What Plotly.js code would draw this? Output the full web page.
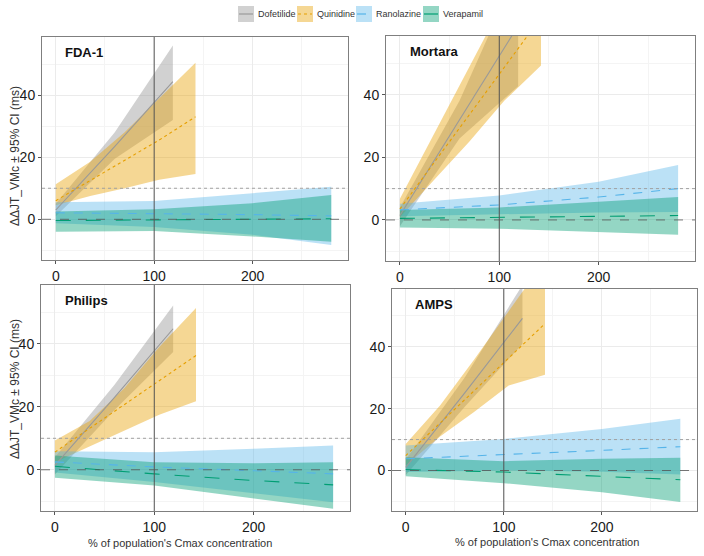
<!DOCTYPE html>
<html><head><meta charset="utf-8">
<script src="https://cdn.plot.ly/plotly-3.0.1.min.js"></script>
<style>html,body{margin:0;padding:0;background:#fff;} #chart{width:704px;height:556px;}</style>
</head><body><div id="chart"></div>
<script>
// ---- data ----
const PANELS = ['FDA-1', 'Mortara', 'Philips', 'AMPS'];
const DRUGS = ['Dofetilide', 'Quinidine', 'Ranolazine', 'Verapamil'];
const DOF_X = [0, 60, 119];
const QUIN_X = [0, 35, 70, 105, 142];
const RAN_X = [0, 100, 200, 280];
const VER_X = [0, 100, 200, 280];

// FDA-1
const FDA_DOF_MEAN = [3, 23.5, 44.3];
const FDA_DOF_LO = [1, 19.5, 32];
const FDA_DOF_HI = [5, 28, 56];
const FDA_QUIN_MEAN = [6, 12.5, 19, 25.5, 33];
const FDA_QUIN_LO = [4.5, 7.5, 10, 12.7, 14.6];
const FDA_QUIN_HI = [11.3, 18.5, 28, 39, 50.4];
const FDA_RAN_MEAN = [2.1, 1.9, 1.5, 1.1];
const FDA_RAN_LO = [-1.3, -2.5, -5, -8.3];
const FDA_RAN_HI = [5.5, 5.9, 8.4, 10.5];
const FDA_VER_MEAN = [-0.4, -0.2, 0, 0.2];
const FDA_VER_LO = [-4, -3.8, -5.5, -7.2];
const FDA_VER_HI = [2.5, 3.2, 5.2, 7.8];

// Mortara
const MOR_DOF_MEAN = [1.4, 32, 62];
const MOR_DOF_LO = [-2, 26, 42.7];
const MOR_DOF_HI = [4, 38, 80];
const MOR_QUIN_MEAN = [3.5, 18.6, 33.6, 48.7, 64.6];
const MOR_QUIN_LO = [0.9, 13, 25, 38, 49.3];
const MOR_QUIN_HI = [6.8, 28, 49, 70, 93];
const MOR_RAN_MEAN = [3.2, 4.8, 7.3, 10];
const MOR_RAN_LO = [1.2, 1.8, 2.4, 2.5];
const MOR_RAN_HI = [5.2, 7.8, 12.2, 17.5];
const MOR_VER_MEAN = [0.5, 0.8, 1.1, 1.4];
const MOR_VER_LO = [-2.4, -2.8, -3.8, -4.7];
const MOR_VER_HI = [3.2, 4, 5.8, 7.3];

// Philips
const PHI_DOF_MEAN = [1.4, 23, 44.8];
const PHI_DOF_LO = [-1.5, 19, 37.4];
const PHI_DOF_HI = [4, 27, 52.2];
const PHI_QUIN_MEAN = [5.6, 13.2, 20.7, 28.3, 36.3];
const PHI_QUIN_LO = [2.4, 7.5, 12.5, 17.5, 21.8];
const PHI_QUIN_HI = [9.3, 15.5, 26, 39, 51.4];
const PHI_RAN_MEAN = [2.5, 0.9, -0.3, -1.3];
const PHI_RAN_LO = [-0.9, -3.9, -7.5, -10.3];
const PHI_RAN_HI = [5.9, 5.6, 6.7, 7.7];
const PHI_VER_MEAN = [1.1, -1.3, -3.4, -4.8];
const PHI_VER_LO = [-2.5, -5, -9.2, -12.4];
const PHI_VER_HI = [4.5, 2.4, 2.1, 2.4];

// AMPS
const AMP_DOF_MEAN = [1, 25, 49.2];
const AMP_DOF_LO = [-1.5, 20.5, 40.9];
const AMP_DOF_HI = [3.5, 30, 60];
const AMP_QUIN_MEAN = [4.8, 15.3, 25.8, 36.3, 47.5];
const AMP_QUIN_LO = [1.6, 11, 19, 27.5, 31];
const AMP_QUIN_HI = [8.6, 21, 36, 52, 68];
const AMP_RAN_MEAN = [3.8, 5.1, 6.5, 7.7];
const AMP_RAN_LO = [-0.5, 0, -0.4, -1.3];
const AMP_RAN_HI = [8.1, 10.2, 13.4, 16.7];
const AMP_VER_MEAN = [0.3, -0.5, -1.9, -3];
const AMP_VER_LO = [-1.9, -4.1, -7, -10.2];
const AMP_VER_HI = [4.3, 3.0, 3.8, 4.1];

const X_TICKS = [0, 100, 200];
const Y_TICKS = [0, 20, 40];
const Y_TITLE = 'ΔΔJT_VMc ± 95% CI (ms)';
const X_TITLE = "% of population's Cmax concentration";

// ---- styling ----
const COLORS = ['#999999', '#E69F00', '#56B4E9', '#009E73'];
const FILLS = ['rgba(153,153,153,0.45)', 'rgba(230,159,0,0.42)', 'rgba(86,180,233,0.40)', 'rgba(0,158,115,0.42)'];
const DASHES = ['solid', 'dot', 'dash', 'longdash'];

const panelData = [
  [[DOF_X, FDA_DOF_MEAN, FDA_DOF_LO, FDA_DOF_HI], [QUIN_X, FDA_QUIN_MEAN, FDA_QUIN_LO, FDA_QUIN_HI], [RAN_X, FDA_RAN_MEAN, FDA_RAN_LO, FDA_RAN_HI], [VER_X, FDA_VER_MEAN, FDA_VER_LO, FDA_VER_HI]],
  [[DOF_X, MOR_DOF_MEAN, MOR_DOF_LO, MOR_DOF_HI], [QUIN_X, MOR_QUIN_MEAN, MOR_QUIN_LO, MOR_QUIN_HI], [RAN_X, MOR_RAN_MEAN, MOR_RAN_LO, MOR_RAN_HI], [VER_X, MOR_VER_MEAN, MOR_VER_LO, MOR_VER_HI]],
  [[DOF_X, PHI_DOF_MEAN, PHI_DOF_LO, PHI_DOF_HI], [QUIN_X, PHI_QUIN_MEAN, PHI_QUIN_LO, PHI_QUIN_HI], [RAN_X, PHI_RAN_MEAN, PHI_RAN_LO, PHI_RAN_HI], [VER_X, PHI_VER_MEAN, PHI_VER_LO, PHI_VER_HI]],
  [[DOF_X, AMP_DOF_MEAN, AMP_DOF_LO, AMP_DOF_HI], [QUIN_X, AMP_QUIN_MEAN, AMP_QUIN_LO, AMP_QUIN_HI], [RAN_X, AMP_RAN_MEAN, AMP_RAN_LO, AMP_RAN_HI], [VER_X, AMP_VER_MEAN, AMP_VER_LO, AMP_VER_HI]]
];

// panel pixel boxes [left, top, right, bottom]
const W = 704, H = 556;
const BOXES = [[42, 37, 348, 260], [386, 36, 695, 261], [41, 285, 350, 511], [392, 289, 697, 511]];
const XR = [-14, 297];
const YR = [-13.1, 58.7];

const traces = [];
const suffix = ['', '2', '3', '4'];
for (let p = 0; p < 4; p++) {
  for (let d = 0; d < 4; d++) {
    const [xs, m, lo, hi] = panelData[p][d];
    traces.push({
      x: xs.concat(xs.slice().reverse()),
      y: hi.concat(lo.slice().reverse()),
      type: 'scatter', mode: 'lines', fill: 'toself', fillcolor: FILLS[d],
      line: {width: 0, color: FILLS[d]}, hoverinfo: 'skip', showlegend: false,
      xaxis: 'x' + suffix[p], yaxis: 'y' + suffix[p]
    });
  }
  for (let d = 0; d < 4; d++) {
    const [xs, m] = panelData[p][d];
    traces.push({
      x: xs, y: m, type: 'scatter', mode: 'lines',
      line: {color: COLORS[d], width: 1.1, dash: DASHES[d]},
      showlegend: false, xaxis: 'x' + suffix[p], yaxis: 'y' + suffix[p]
    });
  }
}

const layout = {
  width: W, height: H, margin: {l: 0, r: 0, t: 0, b: 0},
  paper_bgcolor: '#ffffff', plot_bgcolor: '#ffffff',
  font: {family: 'Liberation Sans, Arial, sans-serif', color: '#1a1a1a'},
  showlegend: false,
  shapes: [], annotations: []
};

for (let p = 0; p < 4; p++) {
  const [l, t, r, b] = BOXES[p];
  const s = suffix[p];
  const xa = {
    domain: [l / W, r / W], range: XR, tickvals: X_TICKS, ticktext: X_TICKS.map(String),
    anchor: 'y' + s, showline: true, mirror: true, linecolor: '#7f7f7f', linewidth: 1,
    showgrid: true, gridcolor: '#ebebeb', gridwidth: 1, zeroline: false,
    ticks: 'outside', ticklen: 3, tickcolor: '#555', tickfont: {size: 14, color: '#1a1a1a'},
    minor: {dtick: 50, tick0: 0, showgrid: true, gridcolor: '#f4f4f4', gridwidth: 1}
  };
  const ya = {
    domain: [1 - b / H, 1 - t / H], range: YR, tickvals: Y_TICKS, ticktext: Y_TICKS.map(String),
    anchor: 'x' + s, showline: true, mirror: true, linecolor: '#7f7f7f', linewidth: 1,
    showgrid: true, gridcolor: '#ebebeb', gridwidth: 1, zeroline: false,
    ticks: 'outside', ticklen: 3, tickcolor: '#555', tickfont: {size: 14, color: '#1a1a1a'},
    minor: {dtick: 10, tick0: 0, showgrid: true, gridcolor: '#f4f4f4', gridwidth: 1}
  };
  layout['xaxis' + s] = xa;
  layout['yaxis' + s] = ya;
  const xref = 'x' + s, yref = 'y' + s;
  layout.shapes.push({type: 'line', xref: xref + ' domain', yref: yref, x0: 0, x1: 1, y0: 10, y1: 10,
    line: {color: '#a0a0a0', width: 1, dash: 'dot'}});
  layout.shapes.push({type: 'line', xref: xref + ' domain', yref: yref, x0: 0, x1: 1, y0: 0, y1: 0,
    line: {color: '#555555', width: 0.8, dash: 'dash'}});
  layout.shapes.push({type: 'line', xref: xref, yref: yref + ' domain', x0: 100, x1: 100, y0: 0, y1: 1,
    line: {color: '#555555', width: 1}});
  layout.annotations.push({text: '<b>' + PANELS[p] + '</b>', xref: xref + ' domain', yref: yref + ' domain',
    x: 0.07, y: 0.93, xanchor: 'left', yanchor: 'middle', showarrow: false,
    font: {size: 13, color: '#111'}});
}
// axis titles
layout.annotations.push({text: Y_TITLE, xref: 'paper', yref: 'paper', x: 15 / W, y: 1 - 156 / H,
  textangle: -90, showarrow: false, font: {size: 12, color: '#333'}, xanchor: 'center', yanchor: 'middle'});
layout.annotations.push({text: Y_TITLE, xref: 'paper', yref: 'paper', x: 15 / W, y: 1 - 389 / H,
  textangle: -90, showarrow: false, font: {size: 12, color: '#333'}, xanchor: 'center', yanchor: 'middle'});
layout.annotations.push({text: X_TITLE, xref: 'paper', yref: 'paper', x: 180 / W, y: 1 - 543 / H,
  showarrow: false, font: {size: 11, color: '#333'}, xanchor: 'center', yanchor: 'middle'});
layout.annotations.push({text: X_TITLE, xref: 'paper', yref: 'paper', x: 547 / W, y: 1 - 542 / H,
  showarrow: false, font: {size: 11, color: '#333'}, xanchor: 'center', yanchor: 'middle'});

// legend (keys drawn as shapes, labels as text)
const LEG_X = [238, 297, 356, 423];
for (let d = 0; d < 4; d++) {
  const x0 = LEG_X[d];
  layout.shapes.push({type: 'rect', xref: 'paper', yref: 'paper', x0: x0 / W, x1: (x0 + 16) / W,
    y0: 1 - 22 / H, y1: 1 - 6 / H, fillcolor: FILLS[d], line: {width: 0}});
  layout.shapes.push({type: 'line', xref: 'paper', yref: 'paper', x0: (x0 + 1) / W, x1: (x0 + 15) / W,
    y0: 1 - 14 / H, y1: 1 - 14 / H, line: {color: COLORS[d], width: 1.2, dash: DASHES[d]}});
  layout.annotations.push({text: DRUGS[d], xref: 'paper', yref: 'paper', x: (x0 + 18) / W, y: 1 - 14.5 / H,
    xanchor: 'left', yanchor: 'middle', showarrow: false, font: {size: 9, color: '#333'}});
}

Plotly.newPlot('chart', traces, layout, {displayModeBar: false, staticPlot: true});
</script></body></html>
